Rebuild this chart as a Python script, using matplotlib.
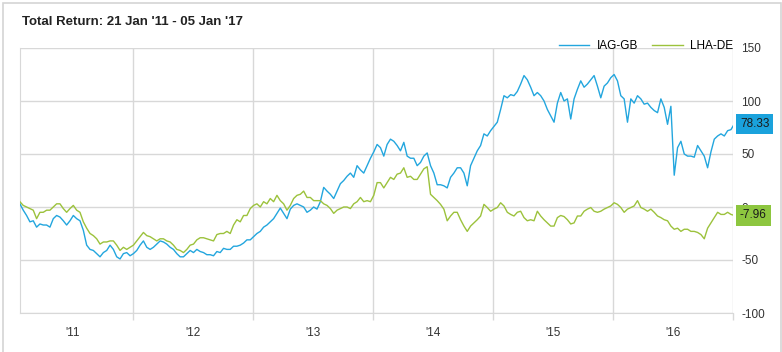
import matplotlib
matplotlib.use("Agg")
import matplotlib.pyplot as plt
import numpy as np
import pandas as pd
from matplotlib.patches import Rectangle

plt.rcParams['font.family'] = ['Liberation Sans', 'DejaVu Sans']
plt.rcParams['axes.unicode_minus'] = False

title = "Total Return: 21 Jan '11 - 05 Jan '17"
start_date = '2011-01-21'
end_date = '2017-01-05'
series_names = ['IAG-GB', 'LHA-DE']
year_labels = ["'11", "'12", "'13", "'14", "'15", "'16"]
y_ticks = [-100, -50, 0, 50, 100, 150]

# about 10 days apart
iag_gb = [
    3, -3, -8, -14, -13, -19, -16, -17, -17, -19, -11, -8, -9.5, -13, -17, -13, -8, -11, -13, -22,
    -36, -40, -41, -44, -47, -43, -41, -36, -40, -47, -49, -44, -43, -46, -44, -41, -36, -32, -38, -40,
    -38, -35, -32, -33, -35, -38, -40, -44, -47, -47, -44, -41, -43,
    -40, -42, -43, -45, -45, -46, -42, -43, -39, -40, -40, -37, -37, -36, -34, -31, -31, -28, -25, -23,
    -19, -17, -14, -11, -6, -1, -6, -11, -2, 1.5, 3, 1.5, 0, -5, -3, 0, -2, 5, 18.5, 15,
    12, 8, 15, 22, 25, 29, 32, 28, 39, 35, 32, 39, 46, 52,
    59, 56, 48, 59, 64, 62, 58, 53, 61, 48, 46, 46, 39, 42, 48, 51, 39, 32, 21, 21,
    20, 18, 28, 32, 37, 37, 32, 20, 39, 46, 53, 58, 69, 67, 72, 76, 80, 92, 105, 103,
    106, 105, 109, 116, 124, 120, 113, 105, 108, 105, 100, 92, 86, 80,
    98, 108, 100, 102, 83, 102, 111, 119, 113, 116, 120, 124, 114, 103, 114, 117, 122, 125, 119, 105,
    102, 80, 102, 98, 105, 102, 97, 98, 94, 91, 89, 102, 94, 78, 95, 30, 56, 62, 50, 48,
    48, 47, 58, 53, 48, 37, 52, 64, 67, 69, 67, 72, 73, 78.33,
]
lha_de = [
    5, 1.5, 0, -1.5, -3, -11, -5, -5, -3, -3, 0, 3, 3, -1.5, -5, -1.5, 1.5, -3, -5, -14,
    -20, -25, -27, -30, -35, -33, -33, -32, -32, -36, -41, -38, -40, -38, -36, -32, -28, -24, -27, -28,
    -30, -32, -30, -30, -32, -33, -36, -40, -41, -43, -40, -36, -35,
    -31, -29, -29, -30, -31, -32, -26, -25, -25, -23, -25, -17, -12, -14, -8, -8, -1.5, 1.5, 3, 0,
    5, 3, 8, 5, 11, 6, 3, -3, 1.5, 8, 11, 12, 15, 9, 9, 6, 6, 6, 3, 1.5,
    -1.5, -6, -3, -1.5, 0, 0, -1.5, 3, 5, 9, 5, 6, 5, 11,
    23, 23, 18, 23, 28, 26, 31, 32, 37, 28, 29, 26, 26, 31, 36, 38, 12, 9, 6, 2.5,
    -2, -13, -8.5, -5, -5, -12, -18, -23, -18, -15, -12, -8.5, 2.5, -0.5, -4, -2, -0.5, 4, 1, -5,
    -7, -8.5, -5, -4, -10, -13, -12, -13, -4, -8.5, -12, -15, -18, -18,
    -10, -8, -9, -12, -16, -15, -8.5, -8.5, -4, -2, -0.5, -4, -5, -4, -2, -0.5, 1, 4, 2.5, -0.5,
    -5, -2, -0.5, 1, 6, -0.5, -2, -4, -2, -5, -8.5, -10, -12, -13, -18, -21, -20, -23, -21, -21,
    -23, -23, -24, -26, -30, -20, -15, -10, -5, -7, -7, -5, -7, -7.96,
]

blue = '#23a6de'
green = '#9cc23c'
dates = pd.date_range(start_date, end_date, periods=len(iag_gb))

fig = plt.figure(figsize=(7.82, 3.52), dpi=100)
fig.patches.append(Rectangle((3 / 782, -0.01), 778 / 782, 1 - 3 / 352 + 0.01,
                             transform=fig.transFigure, fill=False,
                             edgecolor='#d4d4d4', linewidth=1.2))
ax = fig.add_axes([20 / 782, 39 / 352, 713 / 782, 265 / 352])

ax.plot(dates, iag_gb, color=blue, lw=1.0, label=series_names[0], zorder=3)
ax.plot(dates, lha_de, color=green, lw=1.0, label=series_names[1], zorder=3)

# left edge sits 7/120 of a year into 2011
ax.set_xlim(pd.Timestamp('2010-12-31') + (pd.Timestamp('2012-01-01') - pd.Timestamp('2011-01-01')) * (7 / 120),
            pd.Timestamp('2017-01-01'))
ax.set_ylim(-100, 150)

years = [pd.Timestamp(f'{y}-01-01') for y in range(2012, 2018)]
mids = [pd.Timestamp(f'{y}-07-02') for y in range(2011, 2017)]
ax.set_xticks(years)
ax.set_xticklabels([''] * len(years))
ax.set_xticks(mids, minor=True)
ax.set_xticklabels(year_labels, minor=True)
ax.tick_params(axis='x', which='major', length=5, color='#d8d8d8', width=1)
ax.tick_params(axis='x', which='minor', length=0, pad=10, labelsize=8.5, labelcolor='#333333')

ax.yaxis.tick_right()
ax.set_yticks(y_ticks)
ax.tick_params(axis='y', length=0, pad=6, labelsize=8.5, labelcolor='#333333')

ax.grid(True, which='major', color='#d8d8d8', lw=1)
for side in ['top', 'right']:
    ax.spines[side].set_visible(False)
ax.spines['left'].set_color('#d8d8d8')
ax.spines['bottom'].set_color('#d8d8d8')

ax.annotate(f'{iag_gb[-1]:.2f}', xy=(1.0, iag_gb[-1]), xycoords=('axes fraction', 'data'),
            xytext=(5, 0), textcoords='offset points', ha='left', va='center',
            fontsize=8.5, color='#1a1a1a', zorder=5,
            bbox=dict(boxstyle='square,pad=0.35', fc='#1aa2dc', ec='none'))
ax.annotate(f'{lha_de[-1]:.2f}', xy=(1.0, lha_de[-1]), xycoords=('axes fraction', 'data'),
            xytext=(5, 0), textcoords='offset points', ha='left', va='center',
            fontsize=8.5, color='#1a1a1a', zorder=5,
            bbox=dict(boxstyle='square,pad=0.35', fc='#8dc63f', ec='none'))

fig.legend(loc='lower right', bbox_to_anchor=(733 / 782, 1 - 52 / 352), ncol=2,
           frameon=False, fontsize=8.5, handlelength=2.6, columnspacing=1.2,
           handletextpad=0.6, borderaxespad=0, borderpad=0)

fig.text(22 / 782, 1 - 22 / 352, title, fontsize=9.5, fontweight='bold',
         color='#222222', va='center', ha='left')

fig.savefig('out.png', dpi=100)
